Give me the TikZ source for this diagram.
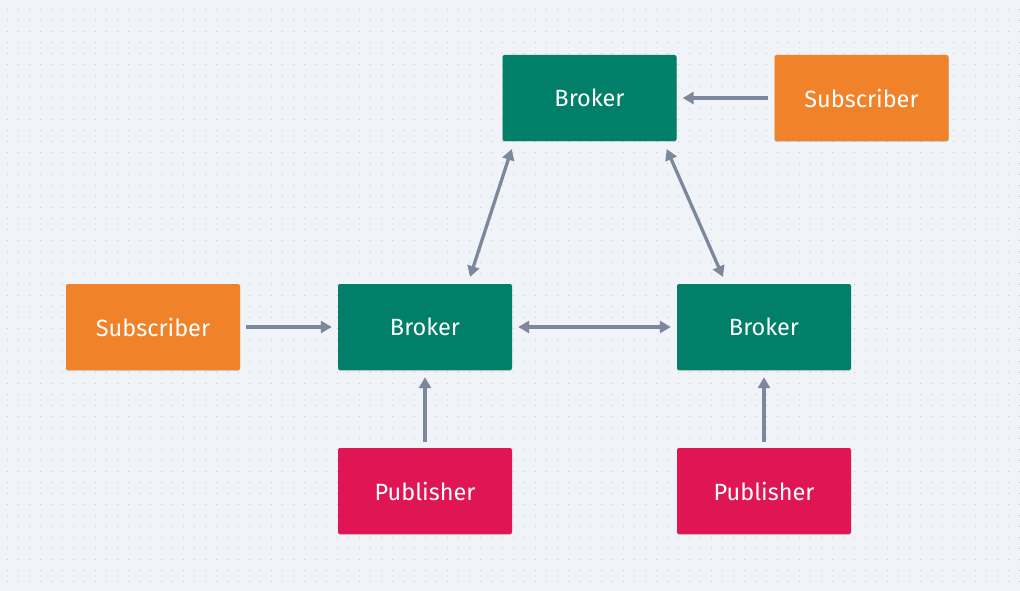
\documentclass[tikz,border=0pt]{standalone}
\usepackage{fontspec}
\setmainfont{Fira Sans}
\usetikzlibrary{arrows.meta,shadows}
\definecolor{bg}{HTML}{F0F3F7}
\definecolor{dotc}{HTML}{C9CEDB}
\definecolor{brokerc}{HTML}{017F68}
\definecolor{subc}{HTML}{F0832A}
\definecolor{pubc}{HTML}{E01654}
\definecolor{arrc}{HTML}{7C899C}
\begin{document}
\begin{tikzpicture}[x=1pt,y=-1pt,
  box/.style={minimum width=174pt,minimum height=86pt,inner sep=0pt,rounded corners=2pt,
    text=white,font=\fontsize{23.5}{28}\selectfont,
    drop shadow={shadow xshift=0pt,shadow yshift=-1pt,opacity=0.15,fill=black}},
  brk/.style={box,fill=brokerc},
  sub/.style={box,fill=subc},
  pub/.style={box,fill=pubc},
  conn/.style={draw=arrc,line width=3.3pt,-{Triangle[length=11pt,width=12pt]}},
  bconn/.style={draw=arrc,line width=3.3pt,{Triangle[length=11pt,width=12pt]}-{Triangle[length=11pt,width=12pt]}}
]
\fill[bg] (0,0) rectangle (1020,591);
\useasboundingbox (0,0) rectangle (1020,591);
\foreach \i in {0,...,92}{
  \foreach \j in {0,...,52}{
    \fill[dotc] (7.5+11*\i,9.5+11*\j) circle (0.7pt);
  }
}
\node[brk] (btop) at (589.5,98) {\raisebox{-1pt}{Broker}};
\node[sub] (stop) at (861.5,98) {\raisebox{-1pt}{Subscriber}};
\node[sub] (sleft) at (153,327) {\raisebox{-1pt}{Subscriber}};
\node[brk] (bmid) at (425,327) {\raisebox{-1pt}{Broker}};
\node[brk] (bright) at (764,327) {\raisebox{-1pt}{Broker}};
\node[pub] (pmid) at (425,491) {\raisebox{-1pt}{Publisher}};
\node[pub] (pright) at (764,491) {\raisebox{-1pt}{Publisher}};
\coordinate (c1) at (511.7,149);
\coordinate (c2) at (470,277);
\coordinate (c3) at (666.7,149);
\coordinate (c4) at (723,277);
\draw[conn] ([xshift=-6pt]stop.west) -- ([xshift=6pt]btop.east);
\draw[conn] ([xshift=6pt]sleft.east) -- ([xshift=-6pt]bmid.west);
\draw[bconn] ([xshift=6pt]bmid.east) -- ([xshift=-6pt]bright.west);
\draw[conn] ([yshift=6pt]pmid.north) -- ([yshift=-7pt]bmid.south);
\draw[conn] ([yshift=6pt]pright.north) -- ([yshift=-7pt]bright.south);
\draw[bconn] (c2) -- (c1);
\draw[bconn] (c4) -- (c3);
\end{tikzpicture}
\end{document}
